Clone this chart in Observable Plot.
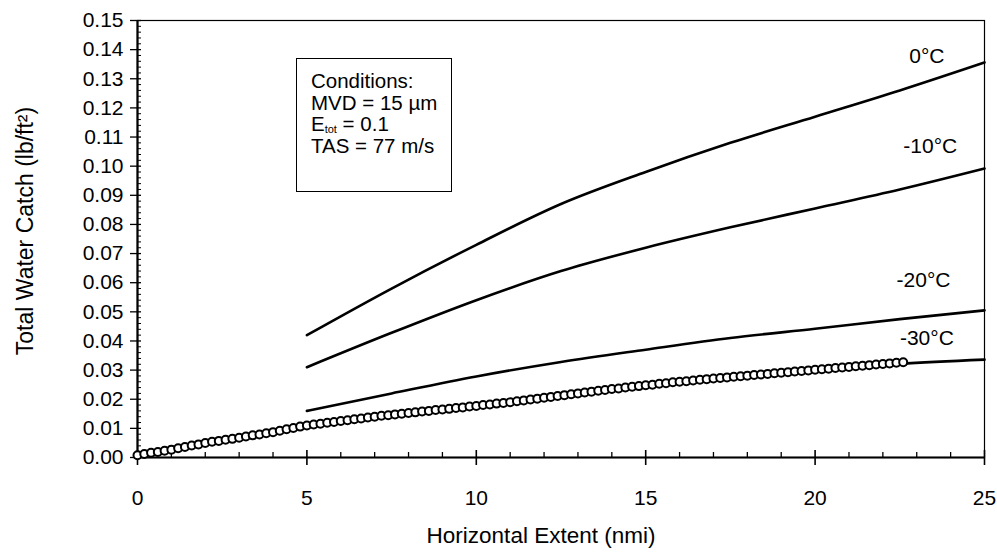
<!DOCTYPE html>
<html>
<head>
<meta charset="utf-8">
<script src="https://cdn.jsdelivr.net/npm/d3@7"></script>
<script src="https://cdn.jsdelivr.net/npm/@observablehq/plot@0.6"></script>
<style>
  html, body { margin: 0; padding: 0; background: #fff; }
  #wrap { position: relative; width: 997px; height: 552px; font-family: "Liberation Sans", Arial, sans-serif; }
  #box { position: absolute; left: 296px; top: 58px; width: 156px; height: 134px; border: 1.5px solid #000; box-sizing: border-box;
         font-size: 20.5px; line-height: 21.5px; padding: 11px 0 0 14px; color: #000; background: #fff; white-space: nowrap; }
  #box sub { font-size: 11px; vertical-align: baseline; position: relative; top: 2px; line-height: 1; }
</style>
</head>
<body>
<div id="wrap"></div>
<script>
// ---- data ----
const lineX = [5, 7.5, 10, 12.5, 15, 17.5, 20, 22.5, 25];
const t0    = [0.042, 0.058, 0.073, 0.087, 0.098, 0.108, 0.117, 0.126, 0.1356];
const tm10  = [0.031, 0.0428, 0.054, 0.064, 0.072, 0.079, 0.0855, 0.092, 0.0992];
const tm20  = [0.016, 0.022, 0.0278, 0.0328, 0.037, 0.041, 0.0442, 0.0475, 0.0505];
const tm30  = [0.0112, 0.0148, 0.0178, 0.0215, 0.0248, 0.0276, 0.0301, 0.0322, 0.0336];
const seriesNames = ["0°C", "-10°C", "-20°C", "-30°C"];

const circleX = [0,0.2,0.4,0.6,0.8,1,1.2,1.4,1.6,1.8,2,2.2,2.4,2.6,2.8,3,3.2,3.4,3.6,3.8,4,4.2,4.4,4.6,4.8,5,
  5.2,5.4,5.6,5.8,6,6.2,6.4,6.6,6.8,7,7.2,7.4,7.6,7.8,8,8.2,8.4,8.6,8.8,9,9.2,9.4,9.6,9.8,10,
  10.2,10.4,10.6,10.8,11,11.2,11.4,11.6,11.8,12,12.2,12.4,12.6,12.8,13,13.2,13.4,13.6,13.8,14,14.2,14.4,14.6,14.8,15,
  15.2,15.4,15.6,15.8,16,16.2,16.4,16.6,16.8,17,17.2,17.4,17.6,17.8,18,18.2,18.4,18.6,18.8,19,19.2,19.4,19.6,19.8,20,
  20.2,20.4,20.6,20.8,21,21.2,21.4,21.6,21.8,22,22.2,22.4,22.6];
const circleY = [0.0008,0.0012,0.0016,0.0019,0.0023,0.0027,0.0032,0.0036,0.0041,0.0045,0.0050,0.0054,0.0057,0.0061,0.0064,0.0068,0.0072,0.0076,0.0079,0.0083,0.0087,0.0092,0.0097,0.0101,0.0106,0.0110,
  0.0113,0.0116,0.0119,0.0122,0.0125,0.0128,0.0131,0.0134,0.0137,0.0140,0.0143,0.0145,0.0148,0.0150,0.0153,0.0155,0.0158,0.0160,0.0163,0.0165,0.0167,0.0170,0.0172,0.0175,0.0177,
  0.0180,0.0182,0.0185,0.0187,0.0190,0.0193,0.0196,0.0199,0.0202,0.0205,0.0208,0.0211,0.0214,0.0217,0.0220,0.0223,0.0226,0.0229,0.0232,0.0235,0.0237,0.0240,0.0243,0.0245,0.0248,
  0.0250,0.0253,0.0255,0.0258,0.0260,0.0262,0.0264,0.0267,0.0269,0.0271,0.0273,0.0275,0.0277,0.0279,0.0281,0.0283,0.0285,0.0287,0.0289,0.0291,0.0293,0.0295,0.0297,0.0299,0.0301,
  0.0303,0.0305,0.0307,0.0309,0.0311,0.0313,0.0315,0.0317,0.0319,0.0321,0.0323,0.0325,0.0327];

const labelX = [23.3, 23.4, 23.2, 23.3];
const labelY = [0.1377, 0.1068, 0.0608, 0.0409];

const xTicks = [0, 5, 10, 15, 20, 25];
const yTicks = [0, 0.01, 0.02, 0.03, 0.04, 0.05, 0.06, 0.07, 0.08, 0.09, 0.10, 0.11, 0.12, 0.13, 0.14, 0.15];
const xMinor = d3.range(0, 26, 1).filter(v => v % 5 !== 0);
const yMinor = d3.range(0, 151, 2).filter(v => v % 10 !== 0).map(v => v / 1000);

const xTitle = "Horizontal Extent (nmi)";
const yTitle = "Total Water Catch (lb/ft²)";

// ---- build table ----
const allSeries = [t0, tm10, tm20, tm30];
const lines = [];
allSeries.forEach((arr, s) => arr.forEach((v, i) => lines.push({series: seriesNames[s], x: lineX[i], y: v})));
const circles = circleX.map((x, i) => ({x, y: circleY[i]}));
const labels = seriesNames.map((n, i) => ({text: n, x: labelX[i], y: labelY[i]}));

const font = "Liberation Sans, Arial, sans-serif";

const chart = Plot.plot({
  width: 997,
  height: 552,
  marginLeft: 137,
  marginRight: 13,
  marginTop: 20,
  marginBottom: 95,
  style: {fontFamily: font, fontSize: "21px", color: "#000", background: "#fff"},
  x: {domain: [0, 25], label: null},
  y: {domain: [0, 0.15], label: null},
  marks: [
    Plot.frame({stroke: "#000", strokeWidth: 1.2}),
    Plot.axisY(yTicks, {anchor: "left", tickSize: 7, tickPadding: 7, tickFormat: d3.format(".2f"), fontSize: 21, strokeWidth: 1.3}),
    Plot.axisY(yTicks, {anchor: "left", tickSize: -4, text: null, strokeWidth: 1.3}),
    Plot.axisY(yMinor, {anchor: "left", tickSize: -4, text: null, strokeWidth: 1}),
    Plot.axisX(xTicks, {anchor: "bottom", tickSize: 8, tickPadding: 25, tickFormat: d3.format("d"), fontSize: 21, strokeWidth: 1.6}),
    Plot.axisX(xTicks, {anchor: "bottom", tickSize: -7, text: null, strokeWidth: 1.6}),
    Plot.axisX(xMinor, {anchor: "bottom", tickSize: -5, text: null, strokeWidth: 1.3}),
    Plot.ruleX([0], {stroke: "#000", strokeWidth: 2.2}),
    Plot.ruleY([0], {stroke: "#000", strokeWidth: 2.2}),
    Plot.line(lines, {x: "x", y: "y", z: "series", stroke: "#000", strokeWidth: 2.6, curve: "monotone-x"}),
    Plot.dot(circles, {x: "x", y: "y", r: 4, stroke: "#000", strokeWidth: 2, fill: "#fff"}),
    Plot.text(labels, {x: "x", y: "y", text: "text", fontSize: 21, fill: "#000"}),
    Plot.text([xTitle], {frameAnchor: "bottom", textAnchor: "middle", lineAnchor: "middle", dx: -20, dy: 78, fontSize: 22.5, fill: "#000"}),
    Plot.text([yTitle], {frameAnchor: "left", textAnchor: "middle", lineAnchor: "middle", dx: -112, dy: -8, rotate: -90, fontSize: 23, fill: "#000"})
  ]
});

const wrap = document.getElementById("wrap");
wrap.appendChild(chart);
const box = document.createElement("div");
box.id = "box";
box.innerHTML = "Conditions:<br>MVD = 15 µm<br>E<sub>tot</sub> = 0.1<br>TAS = 77 m/s";
wrap.appendChild(box);
</script>
</body>
</html>
